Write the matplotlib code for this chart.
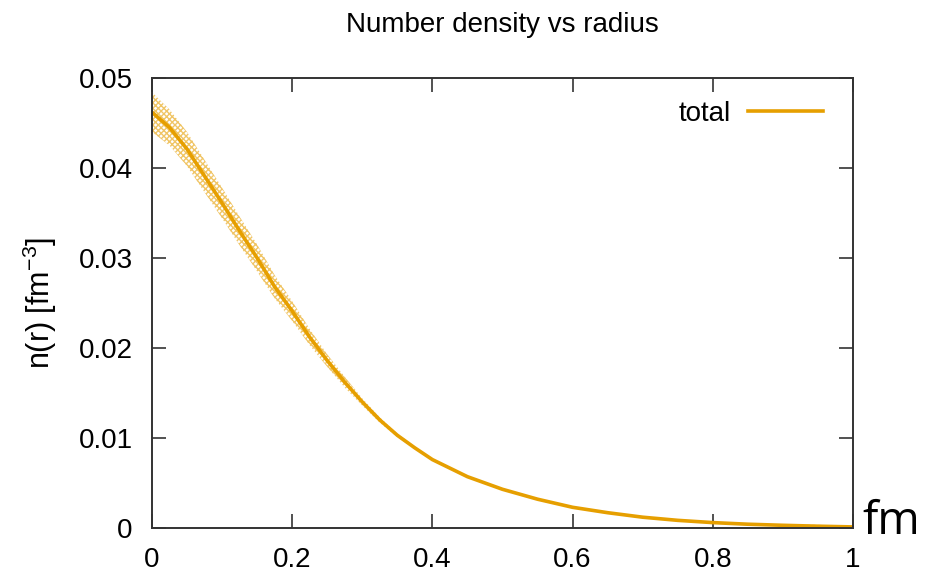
import matplotlib

matplotlib.use("Agg")
import matplotlib.pyplot as plt

# radius [fm] and number density
radius = [0.000, 0.025, 0.050, 0.075, 0.100, 0.125, 0.150, 0.175, 0.200,
          0.225, 0.250, 0.275, 0.300, 0.325, 0.350, 0.375, 0.400, 0.450,
          0.500, 0.550, 0.600, 0.650, 0.700, 0.750, 0.800, 0.850, 0.900,
          0.950, 1.000]
density = [0.0462, 0.0445, 0.0421, 0.0391, 0.0361, 0.0330, 0.0300, 0.0268,
           0.0241, 0.0212, 0.0186, 0.0162, 0.0140, 0.0120, 0.0103, 0.0089,
           0.0076, 0.0057, 0.0043, 0.0032, 0.0023, 0.0017, 0.0012, 0.00085,
           0.0006, 0.00042, 0.0003, 0.0002, 0.00012]
# half width of the error band
error = [0.0022, 0.0020, 0.0019, 0.0018, 0.0017, 0.0016, 0.0015, 0.0013,
         0.0011, 0.0009, 0.0007, 0.0006, 0.0004, 0.0003, 0.0002, 0.00015,
         0.0001, 0.0001, 0.0001, 0.0001, 0.0001, 0.0001, 0.0001, 0.0001,
         0.0001, 0.0001, 0.00012, 0.00015, 0.00012]

x_ticks = [0, 0.2, 0.4, 0.6, 0.8, 1]
x_labels = ["0", "0.2", "0.4", "0.6", "0.8", "1"]
y_ticks = [0, 0.01, 0.02, 0.03, 0.04, 0.05]
y_labels = ["0", "0.01", "0.02", "0.03", "0.04", "0.05"]

ORANGE = "#e69f00"

plt.rcParams["font.family"] = ["Liberation Sans", "DejaVu Sans"]
plt.rcParams["mathtext.fontset"] = "custom"
plt.rcParams["mathtext.rm"] = "Liberation Sans"
plt.rcParams["mathtext.default"] = "regular"
plt.rcParams["hatch.linewidth"] = 1.0

fig = plt.figure(figsize=(9.26, 5.81), dpi=100)
ax = fig.add_axes([152 / 926, 53 / 581, 701 / 926, 450 / 581])

lower = [d - e for d, e in zip(density, error)]
upper = [d + e for d, e in zip(density, error)]
ax.fill_between(radius, lower, upper, facecolor="none",
                edgecolor=(0.902, 0.624, 0.0, 0.6), hatch="xxxxxx", linewidth=0)
ax.plot(radius, density, color=ORANGE, lw=2.6, label="total")

ax.set_xlim(0, 1)
ax.set_ylim(0, 0.05)
ax.set_xticks(x_ticks, x_labels)
ax.set_yticks(y_ticks, y_labels)
ax.tick_params(direction="in", length=10, width=1.2, color="#333333",
               labelsize=20, top=True, right=True, pad=14)
for spine in ax.spines.values():
    spine.set_color("#333333")
    spine.set_linewidth(1.4)

ax.set_ylabel("n(r) [fm$^{-3}$]", fontsize=22, labelpad=14)
fig.text(502 / 926, 1 - 25 / 581, "Number density vs radius",
         fontsize=20, ha="center", va="center")
fig.text(862 / 926, 1 - 522 / 581, "fm", fontsize=33, ha="left", va="center",
         family=["Open Sans", "DejaVu Sans"])

ax.legend(loc="upper right", bbox_to_anchor=(823 / 926, 1 - 101 / 581),
          bbox_transform=fig.transFigure, frameon=False, markerfirst=False,
          fontsize=20, handlelength=2.7, handletextpad=0.6,
          borderpad=0, borderaxespad=0)

fig.savefig("out.png", dpi=100)
plt.close(fig)
